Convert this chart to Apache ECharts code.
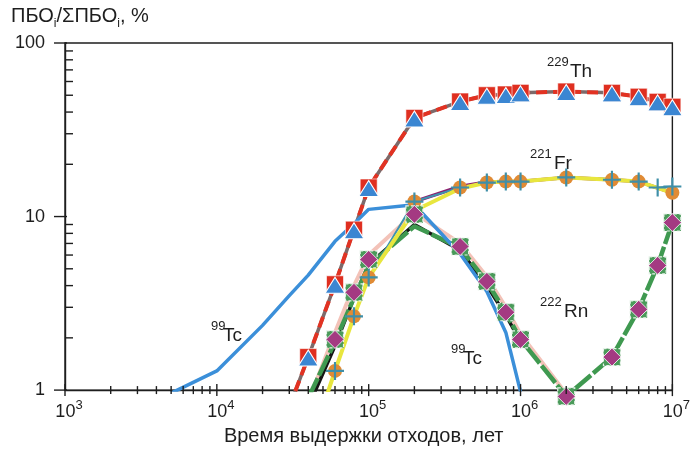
<!DOCTYPE html>
<html><head><meta charset="utf-8">
<script src="https://cdn.jsdelivr.net/npm/echarts@6/dist/echarts.min.js"></script>
<style>html,body{margin:0;padding:0;background:#fff}#c{width:693px;height:451px}</style>
</head><body><div id="c"></div>
<script>
// ---- data (years of storage; share of PBO, %) ----
const years = [6e4, 8e4, 1e5, 2e5, 4e5, 6e5, 8e5, 1e6, 2e6, 4e6, 6e6, 8e6, 1e7];
const leadYear = 4e4;
// 229Th
const thLead = [3e4, 0.8];
const th229First = [4e4, 1.55];
const th229 = [4.07, 8.4, 14.7, 37, 46, 50, 50.5, 51.6, 52.5, 51.6, 49, 45.8, 42.9];
// 221Fr
const frLead = 0.45;
const fr221 = [1.29, 2.66, 4.46, 12.2, 14.7, 15.7, 15.9, 15.9, 16.8, 16.3, 15.9, null, 13.7];
const frYellow = [1.29, 2.66, 4.46, 10.8, 14.5, 15.7, 15.9, 15.9, 16.8, 16.3, 15.9, null, 13.7];
const fr221Cross = [1.29, 2.66, 4.46, 12.2, 14.7, 15.7, 15.9, 15.9, 16.8, 16.3, 15.9, 14.7, 14.9];
const purpleYears = [2e5, 4e5, 6e5, 8e5, 1e6, 2e6, 4e6, 6e6, 1e7];
const purpleVals = [12.2, 14.9, 15.8, 15.9, 15.9, 16.8, 16.3, 15.9, 13.7];
// 222Rn
const rnLead = 0.9;
const rn222Line = [1.9, 3.4, 5.2, 8.8, 6.6, 4.2, 2.8, 1.96, 0.92, 1.55, 2.92, 5.23, 9.24];
const rn222 = [1.96, 3.66, 5.66, 10.3, 6.72, 4.23, 2.81, 1.96, 0.92, 1.55, 2.92, 5.23, 9.24];
// other daughters (pink / black lines)
const pinkYears = [4e4, 6e4, 8e4, 1e5, 2e5, 4e5, 6e5, 8e5, 1e6, 2e6];
const pinkVals = [0.85, 2.15, 4.0, 6.0, 10.5, 7.0, 4.5, 3.0, 2.1, 0.95];
const blackYears = [4e4, 6e4, 8e4, 1e5, 2e5, 4e5, 6e5, 8e5, 1e6];
const blackVals = [0.8, 1.8, 3.4, 5.3, 9.0, 6.4, 4.0, 2.7, 1.9];
// 99Tc
const tcYears = [5e3, 1e4, 2e4, 3e4, 4e4, 6e4, 8e4, 1e5, 2e5, 4e5, 6e5, 8e5, 1e6];
const tc99 = [0.96, 1.29, 2.36, 3.5, 4.6, 7.2, 9.1, 11, 11.7, 6.1, 3.7, 2.15, 0.98];
// axes
const xTicks = [1e3, 1e4, 1e5, 1e6, 1e7];
const xTickExp = ['3', '4', '5', '6', '7'];
const yTicks = [1, 10, 100];
const yTickLabels = ['1', '10', '100'];
const xMinor = [];
for (let e = 3; e < 7; e++) for (let m = 2; m <= 9; m++) xMinor.push(m * Math.pow(10, e));
const yMinor = [];
for (let e = 0; e < 2; e++) for (let m = 2; m <= 9; m++) yMinor.push(m * Math.pow(10, e));

const zip = (xs, ys) => xs.map((x, i) => [x, ys[i]]);
const FONT = 'Liberation Sans, Arial, sans-serif';
const INK = '#1e1e1e';

function tickSeries(data, dx0, dx1, dy0, dy1) {
  return {
    type: 'custom', silent: true, clip: false, z: 20,
    data: data,
    renderItem: (params, api) => {
      const p = api.coord([api.value(0), api.value(1)]);
      return { type: 'line', shape: { x1: p[0] + dx0, y1: p[1] + dy0, x2: p[0] + dx1, y2: p[1] + dy1 },
               style: { stroke: INK, lineWidth: 1.4 } };
    }
  };
}
function label(sup, main, x, y, supW) {
  return [
    { type: 'text', left: x, top: y - 6, silent: true, style: { text: sup, fontSize: 13, fontFamily: FONT, fill: INK } },
    { type: 'text', left: x + supW, top: y, silent: true, style: { text: main, fontSize: 19, fontFamily: FONT, fill: INK } }
  ];
}

const plusPath = 'path://M4.4,0 L5.6,0 L5.6,4.4 L10,4.4 L10,5.6 L5.6,5.6 L5.6,10 L4.4,10 L4.4,5.6 L0,5.6 L0,4.4 L4.4,4.4 Z';

const chart = echarts.init(document.getElementById('c'), null, { renderer: 'canvas' });
chart.setOption({
  animation: false,
  backgroundColor: '#fff',
  textStyle: { fontFamily: FONT },
  grid: { left: 65, right: 16, top: 43, bottom: 60, show: true, borderColor: INK, borderWidth: 1.4, backgroundColor: 'transparent' },
  xAxis: {
    type: 'log', logBase: 10, min: 1e3, max: 1e7,
    axisLine: { lineStyle: { color: INK, width: 1.4 } },
    axisTick: { show: false },
    splitLine: { show: false },
    axisLabel: {
      margin: 9, padding: [0, 0, 0, 8],
      formatter: v => {
        const i = xTicks.findIndex(t => Math.abs(t - v) / t < 1e-6);
        return i < 0 ? '' : '{b|10}{s|' + xTickExp[i] + '}';
      },
      rich: {
        b: { fontSize: 18, color: INK, fontFamily: FONT, lineHeight: 22, verticalAlign: 'bottom' },
        s: { fontSize: 13, color: INK, fontFamily: FONT, lineHeight: 13, verticalAlign: 'top' }
      }
    },
    name: 'Время выдержки отходов, лет', nameLocation: 'middle', nameGap: 34,
    nameTextStyle: { fontSize: 20, color: INK, fontFamily: FONT, padding: [0, 10, 0, 0] }
  },
  yAxis: {
    type: 'log', logBase: 10, min: 1, max: 100,
    axisLine: { lineStyle: { color: INK, width: 1.4 } },
    axisTick: { show: false },
    splitLine: { show: false },
    axisLabel: {
      margin: 20, fontSize: 18, color: INK, fontFamily: FONT,
      formatter: v => { const i = yTicks.findIndex(t => Math.abs(t - v) / t < 1e-6); return i < 0 ? '' : yTickLabels[i]; }
    }
  },
  graphic: [
    { type: 'text', left: 11, top: 6, silent: true,
      style: { text: '{a|ПБО}{i|i}{a|/ΣПБО}{i|i}{a|, %}', fill: INK,
        rich: { a: { fontSize: 20, fontFamily: FONT, fill: INK, lineHeight: 24, verticalAlign: 'top' },
                i: { fontSize: 12, fontFamily: FONT, fill: INK, lineHeight: 24, verticalAlign: 'bottom' } } } }
  ].concat(
    label('229', 'Th', 547, 62, 23),
    label('221', 'Fr', 530, 154, 24),
    label('222', 'Rn', 540, 302, 24),
    label('99', 'Tc', 211, 326, 12),
    label('99', 'Tc', 451, 349, 12)
  ),
  series: [
    // Th lines
    { type: 'line', data: [thLead, th229First].concat(zip(years, th229)), showSymbol: false, clip: true, z: 2,
      lineStyle: { color: '#7d6a6a', width: 3.5 } },
    { type: 'line', data: [thLead, th229First].concat(zip(years, th229)), showSymbol: false, clip: true, z: 3,
      lineStyle: { color: '#e23222', width: 4, type: [11, 6] } },
    // pink, black, green
    { type: 'line', data: zip(pinkYears, pinkVals), showSymbol: false, clip: true, z: 3,
      lineStyle: { color: '#f3c2b8', width: 4 } },
    { type: 'line', data: zip(blackYears, blackVals), showSymbol: false, clip: true, z: 3,
      lineStyle: { color: '#151515', width: 3.5 } },
    { type: 'line', data: [[leadYear, rnLead]].concat(zip(years, rn222Line)), showSymbol: false, clip: true, z: 4,
      lineStyle: { color: '#3f9950', width: 4.5, type: [22, 3] } },
    // Fr lines
    { type: 'line', data: zip(purpleYears, purpleVals), showSymbol: false, clip: true, z: 4,
      lineStyle: { color: '#8c1f6e', width: 3.5 } },
    { type: 'line', data: zip(years, fr221Cross), showSymbol: false, clip: true, z: 4,
      lineStyle: { color: '#3f93b0', width: 2 } },
    { type: 'line', data: [[leadYear, frLead]].concat(zip(years, frYellow)), showSymbol: false, clip: true, connectNulls: true, z: 5,
      lineStyle: { color: '#e8e63e', width: 4 } },
    // Tc
    { type: 'line', data: zip(tcYears, tc99), showSymbol: false, clip: true, z: 6,
      lineStyle: { color: '#3b8fd9', width: 3.5 } },
    // markers
    { type: 'scatter', data: [th229First].concat(zip(years, th229)), symbol: 'rect', symbolSize: 17, clip: false, z: 10,
      itemStyle: { color: '#df2f20', borderColor: '#fff', borderWidth: 0.6, opacity: 1 } },
    { type: 'scatter', data: [th229First].concat(zip(years, th229)), symbol: 'triangle', symbolSize: [20, 16], symbolOffset: [0, 1], clip: false, z: 11,
      itemStyle: { color: '#3b86d2', borderColor: '#fff', borderWidth: 1, opacity: 1 } },
    { type: 'scatter', data: zip(years, fr221).filter(d => d[1] != null), symbol: 'circle', symbolSize: 14, clip: false, z: 10,
      itemStyle: { color: '#e08b35', opacity: 1 } },
    { type: 'scatter', data: zip(years, fr221Cross), symbol: plusPath, symbolSize: 18, clip: false, z: 11,
      itemStyle: { color: '#3f8fa8', opacity: 1 } },
    { type: 'scatter', data: zip(years, rn222), symbol: 'rect', symbolSize: 17, clip: false, z: 12,
      itemStyle: { color: '#4a9a5a', borderColor: '#e8f3ea', borderWidth: 1.2, borderType: [3, 2], opacity: 1 } },
    { type: 'scatter', data: zip(years, rn222), symbol: 'diamond', symbolSize: [18, 18], clip: false, z: 13,
      itemStyle: { color: '#a43a82', borderColor: '#fff', borderWidth: 0.8, opacity: 1 } },
    // ticks
    tickSeries(xMinor.map(v => [v, 1]), 0, 0, -4, 4),
    tickSeries(xTicks.map(v => [v, 1]), 0, 0, -6, 6),
    tickSeries(yMinor.map(v => [1e3, v]), 0, 8, 0, 0),
    tickSeries(yTicks.map(v => [1e3, v]), -11, 2, 0, 0)
  ]
});
</script>
</body></html>
